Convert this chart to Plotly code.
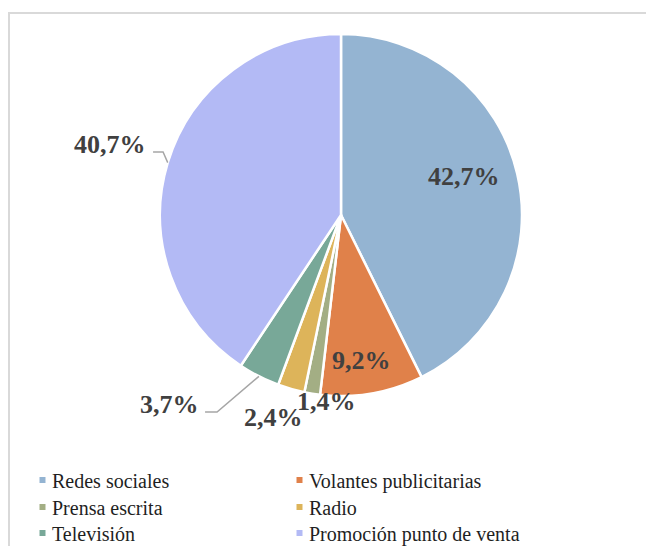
import math
import plotly.graph_objects as go

categories = ["Redes sociales", "Volantes publicitarias", "Prensa escrita",
              "Radio", "Televisión", "Promoción punto de venta"]
values = [42.7, 9.2, 1.4, 2.4, 3.7, 40.7]
labels_text = ["42,7%", "9,2%", "1,4%", "2,4%", "3,7%", "40,7%"]
colors = ["#94B4D2", "#E0814A", "#A3AE84", "#DDB45A", "#78A898", "#B3BAF5"]

# label placement style: radial factor and angular shift (deg) from slice mid-angle
label_k = [0.711, 0.81, 1.036, 1.18, 1.415, 1.334]
label_dt = [-4.0, 1.7, -4.6, 2.3, 15.2, 0.1]
# leader lines: index -> (elbow radial factor, elbow angle shift, horizontal length px)
leaders = {4: (1.286, 5.2, 12), 5: (1.043, 2.7, 10)}

SERIF = "Liberation Serif, Times New Roman, Tinos, serif"
OFF = 8  # page body margin
W, H = 654 - OFF, 546 - OFF
cx, cy, r = 341 - OFF, 215 - OFF, 181


def px(x):
    return x / W


def py(y):
    return 1 - y / H


fig = go.Figure(go.Pie(
    labels=categories, values=values,
    textinfo="none", sort=False, direction="clockwise", rotation=0,
    marker=dict(colors=colors, line=dict(color="white", width=2.5)),
    domain=dict(x=[px(cx - r), px(cx + r)], y=[py(cy + r), py(cy - r)]),
    hoverinfo="skip", showlegend=False,
))

total = sum(values)
annotations = []
shapes = [dict(type="rect", xref="paper", yref="paper", x0=px(1), y0=-0.2, x1=1.2,
               y1=py(13 - OFF), line=dict(color="#D9D9D9", width=2),
               fillcolor="rgba(0,0,0,0)", layer="below")]


def polar(theta_deg, d):
    t = math.radians(theta_deg)
    return cx + d * math.sin(t), cy - d * math.cos(t)


cum = 0.0
for i, v in enumerate(values):
    mid = 360.0 * (cum + v / 2) / total
    cum += v
    lx, ly = polar(mid + label_dt[i], label_k[i] * r)
    annotations.append(dict(x=px(lx), y=py(ly), xref="paper", yref="paper",
                            text="<b>%s</b>" % labels_text[i], showarrow=False,
                            xanchor="center", yanchor="middle",
                            font=dict(family=SERIF, size=26, color="#404040")))
    if i in leaders:
        ek, edt, hl = leaders[i]
        x0, y0 = polar(mid, r)
        x1, y1 = polar(mid + edt, ek * r)
        shapes.append(dict(type="path", xref="paper", yref="paper",
                           path="M %f %f L %f %f L %f %f" % (px(x0), py(y0), px(x1), py(y1),
                                                             px(x1 - hl), py(y1)),
                           line=dict(color="#A6A6A6", width=1.5)))

# custom legend: 2 columns x 3 rows
leg_col_marker = [42.5 - OFF, 299.5 - OFF]
leg_col_text = [50 - OFF, 307 - OFF]
leg_rows = [481 - OFF, 508 - OFF, 534 - OFF]
for i, (cat, col) in enumerate(zip(categories, colors)):
    c, rw = i % 2, i // 2
    mx, my = leg_col_marker[c], leg_rows[rw] - 1
    shapes.append(dict(type="rect", xref="paper", yref="paper",
                       x0=px(mx - 3), x1=px(mx + 3), y0=py(my + 3), y1=py(my - 3),
                       fillcolor=col, line=dict(width=0)))
    annotations.append(dict(x=px(leg_col_text[c]), y=py(leg_rows[rw]), xref="paper", yref="paper",
                            text=cat, showarrow=False, xanchor="left", yanchor="middle",
                            font=dict(family=SERIF, size=20, color="#1f1f1f", weight="normal")))

fig.update_layout(
    width=W, height=H,
    margin=dict(l=0, r=0, t=0, b=0),
    paper_bgcolor="white", plot_bgcolor="white",
    showlegend=False,
    font=dict(family=SERIF),
    shapes=shapes, annotations=annotations,
)

fig.write_html("out.html")
